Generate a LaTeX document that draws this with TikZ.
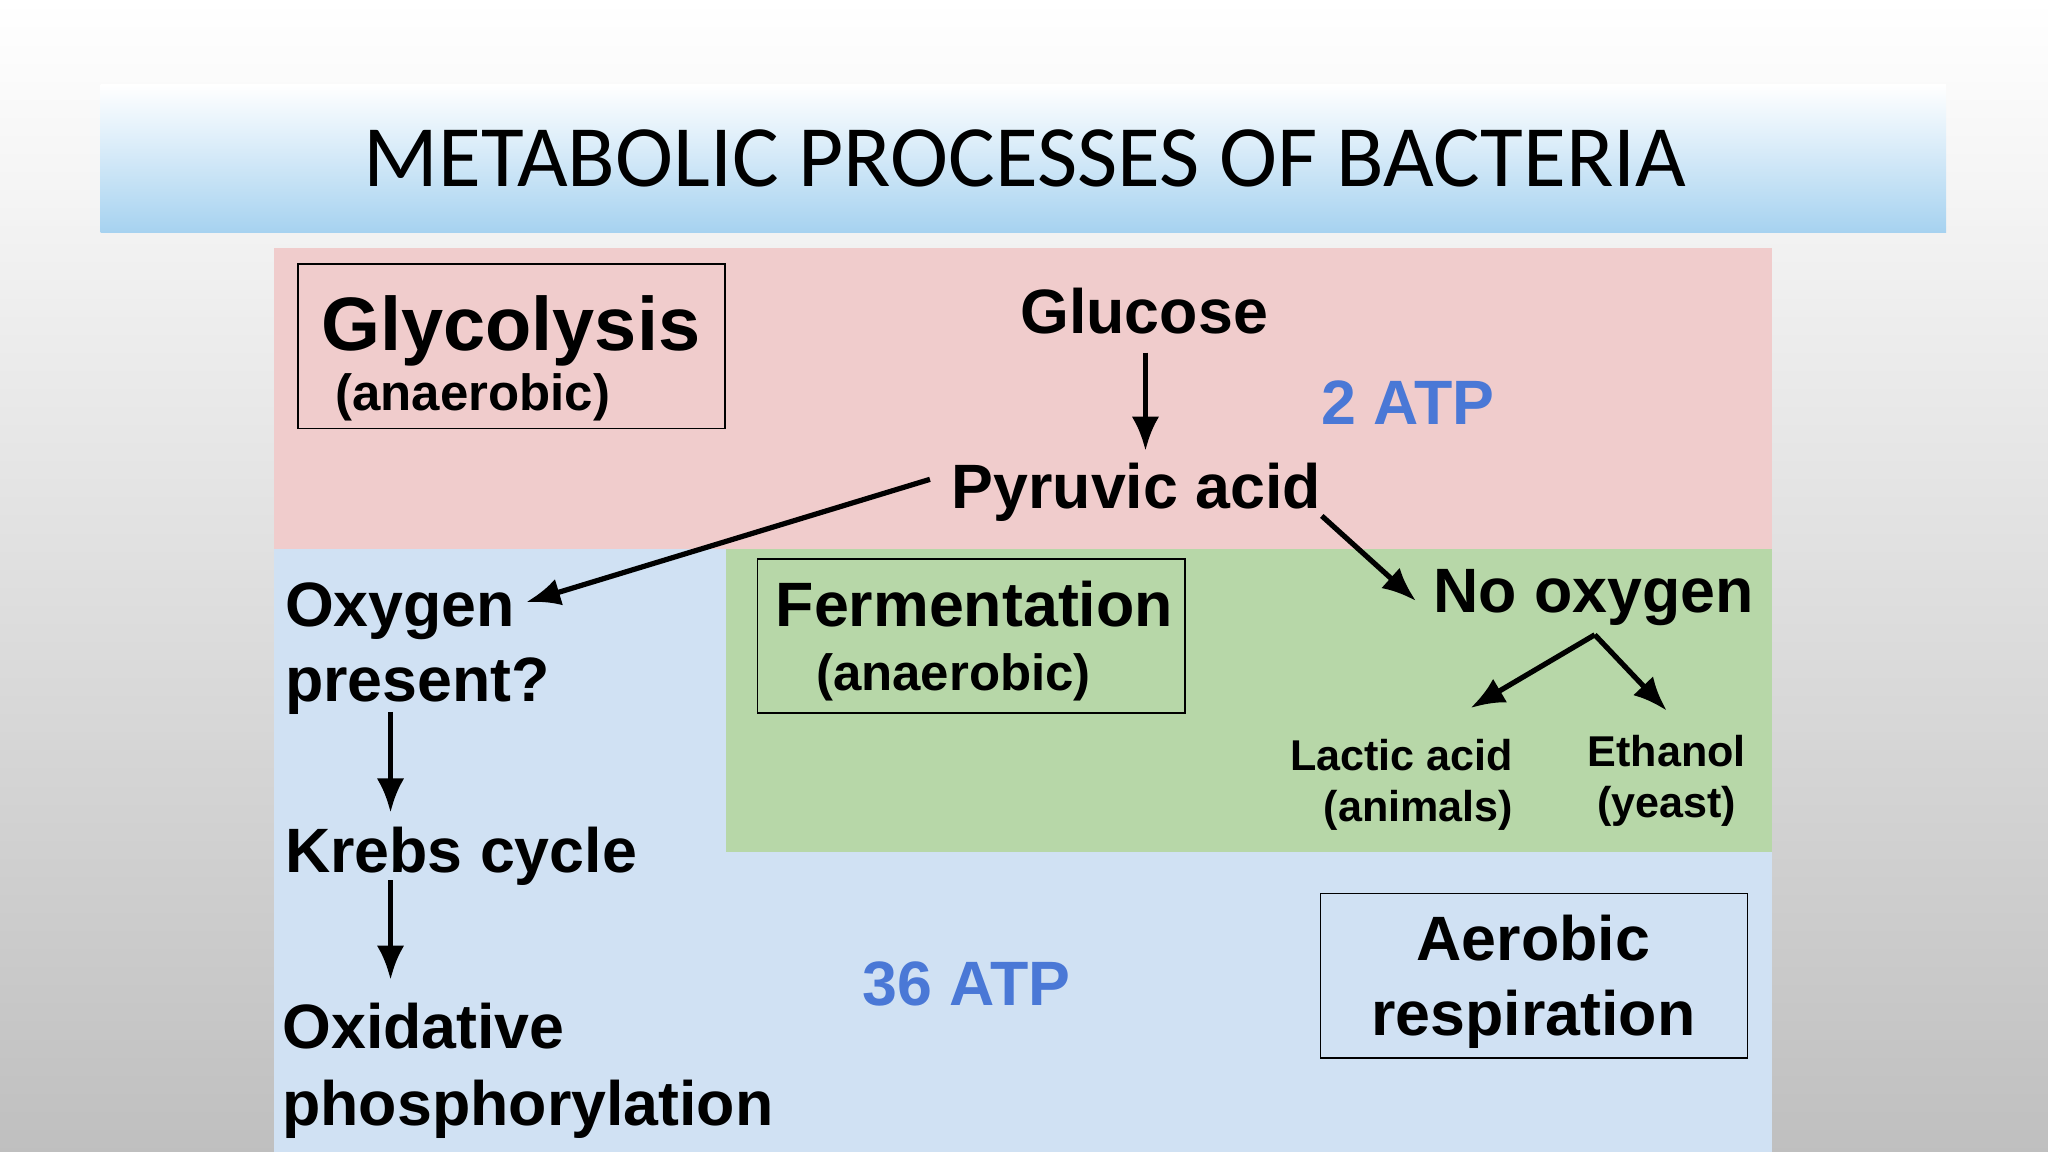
\documentclass[tikz,border=0pt]{standalone}
\usepackage{fontspec}
\setmainfont{Liberation Sans}
\newfontfamily\titlefont{Carlito}
\usetikzlibrary{arrows.meta}
\definecolor{pinkbg}{HTML}{F0CCCC}
\definecolor{bluebg}{HTML}{D0E1F3}
\definecolor{greenbg}{HTML}{B7D7A8}
\definecolor{atpblue}{HTML}{4A78D6}
\definecolor{bandblue}{HTML}{A6D2F0}
\tikzset{
  fs/.style={font=\fontsize{#1}{#1}\selectfont\bfseries, inner sep=0pt},
  lbl/.style={fs=48, anchor=base},
  box/.style={draw=black, line width=1.3pt},
  arr/.style={-{Latex[length=26pt,width=21pt]}, line width=4pt},
}
\begin{document}
\begin{tikzpicture}[x=1pt,y=-1pt]
\useasboundingbox (0,0) rectangle (1568,882);
\shade[top color=white, bottom color=black!25] (0,0) rectangle (1568,882);
\shade[top color=white, bottom color=bandblue] (77,65) rectangle (1490,178);
\node[inner sep=0pt, font=\fontsize{67}{67}\selectfont\titlefont] (title) at (785,121) {METABOLIC PROCESSES OF BACTERIA};
\fill[pinkbg] (210,190) rectangle (1357,420);
\fill[bluebg] (210,420) rectangle (1357,882);
\fill[greenbg] (556,420) rectangle (1357,652);
% boxes
\draw[box] (228,202) rectangle (555,328);
\draw[box] (580,428) rectangle (907,546);
\draw[box] (1011,684) rectangle (1338,810);
\node[fs=58, anchor=base] (glyc) at (391,268) {Glycolysis};
\node[fs=39, anchor=base] (glycan) at (362,314) {(anaerobic)};
\node[fs=48, anchor=base] (ferm) at (746,480) {Fermentation};
\node[fs=39, anchor=base] (fermean) at (730,529) {(anaerobic)};
\node[fs=48, anchor=base] (aer1) at (1174,735) {Aerobic};
\node[fs=48, anchor=base] (aer2) at (1174,793) {respiration};
% labels
\node[lbl] (glucose) at (876,255) {Glucose};
\node[lbl, text=atpblue] (atp2) at (1078,325) {2 ATP};
\node[lbl] (pyr) at (870,389) {Pyruvic acid};
\node[lbl, anchor=base west] (oxy1) at (218,480) {Oxygen};
\node[lbl, anchor=base west] (oxy2) at (218,537) {present?};
\node[lbl] (noox) at (1220,469) {No oxygen};
\node[fs=33, anchor=base] (lac1) at (1073,590) {Lactic acid};
\node[fs=33, anchor=base] (lac2) at (1086,629) {(animals)};
\node[fs=33, anchor=base] (eth1) at (1276,587) {Ethanol};
\node[fs=33, anchor=base] (eth2) at (1276,626) {(yeast)};
\node[lbl, anchor=base west] (krebs) at (218,668) {Krebs cycle};
\node[lbl, anchor=base west] (ox1) at (216,803) {Oxidative};
\node[lbl, anchor=base west] (ox2) at (216,862) {phosphorylation};
\node[lbl, text=atpblue] (atp36) at (740,770) {36 ATP};
% arrow coordinates
\coordinate (gA) at (877,270); \coordinate (gB) at (877,345);
\coordinate (pA) at (712,367); \coordinate (pB) at (403,461);
\coordinate (nA) at (1012,395); \coordinate (nB) at (1084,460);
\coordinate (apex) at (1221,486); \coordinate (lB) at (1126,542); \coordinate (eB) at (1276,544);
\coordinate (oA) at (299,545); \coordinate (oB) at (299,622);
\coordinate (kA) at (299,674); \coordinate (kB) at (299,750);
\draw[arr] (gA) -- (gB);
\draw[arr] (pA) -- (pB);
\draw[arr] (nA) -- (nB);
\draw[arr] (apex) -- (lB);
\draw[arr] (apex) -- (eB);
\draw[arr] (oA) -- (oB);
\draw[arr] (kA) -- (kB);
\end{tikzpicture}
\end{document}
